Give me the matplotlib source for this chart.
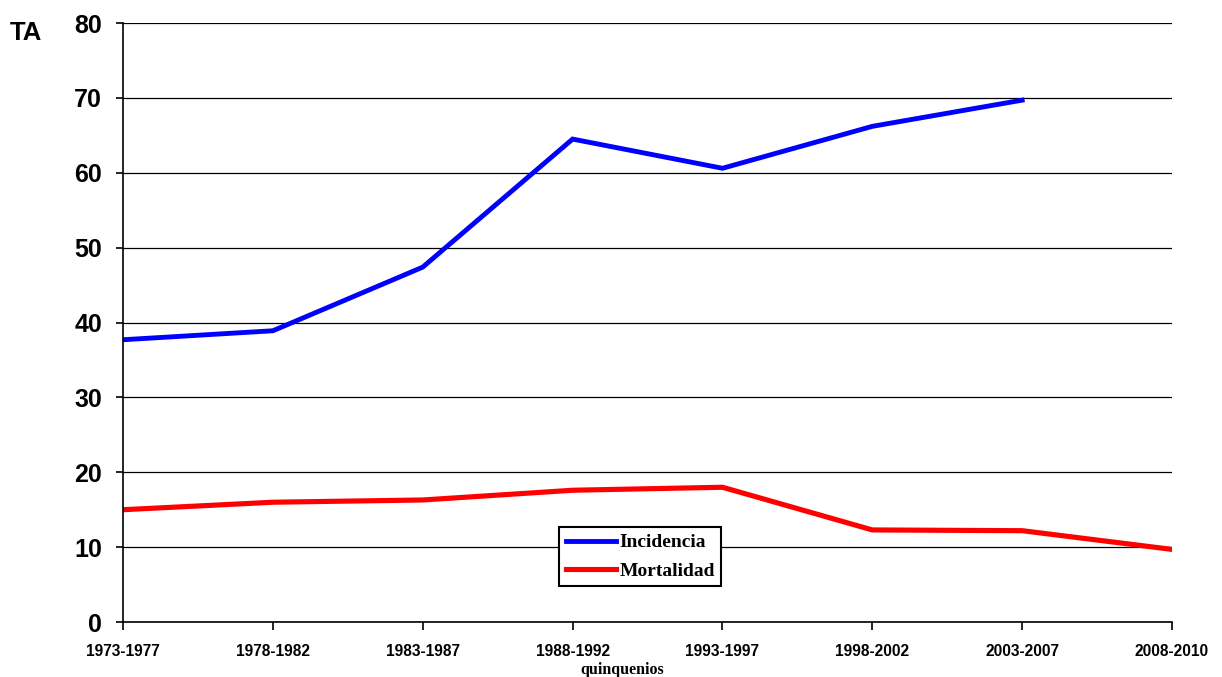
import numpy as np
import matplotlib
matplotlib.use("Agg")
import matplotlib.pyplot as plt

# ── Data ──────────────────────────────────────────────────────────────────────
periodos = ["1973-1977", "1978-1982", "1983-1987", "1988-1992",
            "1993-1997", "1998-2002", "2003-2007", "2008-2010"]
incidencia = [37.7, 38.9, 47.4, 64.5, 60.6, 66.2, 69.7, np.nan]
mortalidad = [15.0, 16.0, 16.3, 17.6, 18.0, 12.3, 12.2, 9.7]
y_ticks = [0, 10, 20, 30, 40, 50, 60, 70, 80]

# ── Plot ──────────────────────────────────────────────────────────────────────
fig = plt.figure(figsize=(12.22, 6.77), dpi=100)
ax = fig.add_axes([0.1007, 0.0812, 0.8584, 0.8848])

x = np.arange(len(periodos))
ax.plot(x, incidencia, color="#0000ff", linewidth=3.5, label="Incidencia",
        solid_joinstyle="miter")
ax.plot(x, mortalidad, color="#ff0000", linewidth=3.7, label="Mortalidad",
        solid_joinstyle="miter")

ax.set_xlim(0, len(periodos) - 1)
ax.set_ylim(0, 80)
ax.set_yticks(y_ticks)
ax.set_xticks(x)
ax.set_xticklabels(periodos)

ax.yaxis.grid(True, color="black", linewidth=0.9)
ax.set_axisbelow(True)
for side in ("top", "right"):
    ax.spines[side].set_visible(False)
for side in ("left", "bottom"):
    ax.spines[side].set_linewidth(1.2)

ax.tick_params(axis="y", direction="out", length=5, width=1.2, pad=10)
ax.tick_params(axis="x", direction="out", length=6, width=1.2, pad=10)
for lbl in ax.get_yticklabels():
    lbl.set_fontfamily("Liberation Sans")
    lbl.set_fontweight("bold")
    lbl.set_fontsize(18)
for lbl in ax.get_xticklabels():
    lbl.set_fontfamily("Liberation Sans")
    lbl.set_fontweight("bold")
    lbl.set_fontsize(11.2)

fig.text(0.008, 0.951, "TA", fontfamily="Liberation Sans", fontweight="bold",
         fontsize=18.5, ha="left", va="center")
fig.text(0.509, 0.011, "quinquenios", fontfamily="Liberation Serif",
         fontweight="bold", fontsize=11.5, ha="center", va="center")

leg = ax.legend(loc="center", bbox_to_anchor=(0.493, 0.109), frameon=True,
                fancybox=False, handlelength=2.6, handletextpad=0.15,
                borderpad=0.35, labelspacing=0.55,
                prop={"family": "Liberation Serif", "weight": "bold", "size": 14})
leg.get_frame().set_edgecolor("black")
leg.get_frame().set_linewidth(1.5)
leg.get_frame().set_alpha(1)

fig.savefig("out.png", dpi=100)
